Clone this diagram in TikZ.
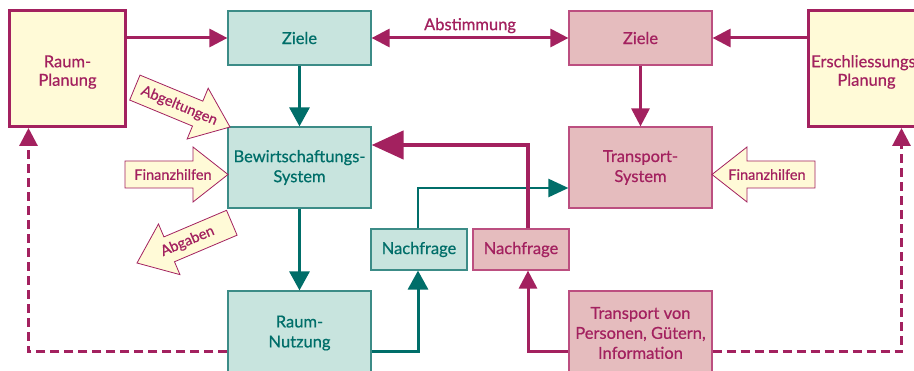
\documentclass[tikz,border=0pt]{standalone}
\usepackage{fontspec}
\setmainfont{Lato}[FakeBold=0.6]
\usetikzlibrary{arrows.meta,calc}
\definecolor{mag}{HTML}{A3215F}
\definecolor{creme}{HTML}{FFFAD7}
\definecolor{tealfill}{HTML}{C8E4DE}
\definecolor{tealline}{HTML}{3C8C87}
\definecolor{tealdark}{HTML}{006E69}
\definecolor{pinkfill}{HTML}{E5BCBE}
\definecolor{pinkline}{HTML}{BC4F80}
\tikzset{
  blocktext/.style={},
  barrow/.pic={
    \draw[draw=mag, line width=0.8pt, fill=creme, line join=miter]
      (0,0) -- (-35,27.5) -- (-35,13.5) -- (-103,13.5) -- (-103,-13.5)
      -- (-35,-13.5) -- (-35,-27.5) -- cycle;
    \node[transform shape, text=mag, font=\fontsize{14.5}{17}\selectfont, blocktext]
      (-t) at (-55,0) {#1};
  }
}
\begin{document}
\begin{tikzpicture}[x=1pt,y=-1pt,
  box/.style={draw, line width=1.2pt, align=center, inner sep=0pt,
    font=\fontsize{16.5}{20}\selectfont},
  tealbox/.style={box, draw=tealline, fill=tealfill, text=tealdark},
  pinkbox/.style={box, draw=pinkline, fill=pinkfill, text=mag},
  planbox/.style={box, draw=mag, line width=3pt, fill=creme, text=mag,
    minimum width=116pt, minimum height=116pt,
    font=\fontsize{16.5}{18.5}\selectfont},
  wide/.style={minimum width=143pt},
  marr/.style={draw=mag, line width=3pt, -{Triangle[length=18pt,width=18pt]}},
  marr2/.style={draw=mag, line width=3pt,
    {Triangle[length=18pt,width=18pt]}-{Triangle[length=18pt,width=18pt]}},
  bigarr/.style={draw=mag, line width=4.5pt, -{Triangle[length=32pt,width=28pt]}},
  tarr/.style={draw=tealdark, line width=3pt, -{Triangle[length=19pt,width=20pt]}},
  tarrthin/.style={draw=tealdark, line width=2.5pt, -{Triangle[length=20pt,width=18pt]}},
  darr/.style={draw=mag, line width=3pt, dash pattern=on 9pt off 5pt,
    -{Triangle[length=18pt,width=18pt]}},
]
\clip (0,0) rectangle (914,371);
\fill[white] (0,0) rectangle (914,371);

% planning boxes (the strut lowers the two-line label a little)
\node[planbox] (rp) at (67.5,68.5) {\rule{0pt}{19pt}Raum-\\Planung};
\node[planbox] (ep) at (866.5,68.5) {\rule{0pt}{19pt}Erschliessungs-\\Planung};

% goals
\node[tealbox, wide, minimum height=54pt] (zl) at (299.5,38) {Ziele};
\node[pinkbox, wide, minimum height=54pt] (zr) at (640.5,38) {Ziele};

% systems
\node[tealbox, wide, minimum height=81pt] (bs) at (299.5,167.5) {Bewirtschaftungs-\\System};
\node[pinkbox, wide, minimum height=81pt] (ts) at (640.5,167.5) {Transport-\\System};

% demand
\node[tealbox, minimum width=96pt, minimum height=41pt] (nt) at (419,249.5) {Nachfrage};
\node[pinkbox, minimum width=96pt, minimum height=41pt] (np) at (521,249.5) {Nachfrage};

% use
\node[tealbox, wide, minimum height=84pt] (rn) at (299.5,333) {Raum-\\Nutzung};
\node[pinkbox, wide, minimum height=84pt] (tp) at (640.5,333) {Transport von\\Personen, Gütern,\\Information};

% block arrows
\pic (abg) [rotate=-22.5] at (230,127) {barrow={Abgeltungen}};
\pic (fzl) at (228,174.5) {barrow={Finanzhilfen}};
\pic (abz) [rotate=203, blocktext/.style={rotate=180}] at (137,263) {barrow={Abgaben}};
\pic (fzr) [rotate=180, blocktext/.style={rotate=180}] at (712,174.5) {barrow={Finanzhilfen}};

% connectors
\draw[marr] (rp.east |- zl.west) -- (zl.west);
\draw[marr2] (zl.east) -- node[above=0pt, text=mag, font=\fontsize{16.5}{20}\selectfont] (abst) {Abstimmung} (zr.west);
\draw[marr] (ep.west |- zr.east) -- (zr.east);
\draw[tarr] (zl.south) -- (bs.north);
\draw[marr] (zr.south) -- (ts.north);
\draw[tarr] (bs.south) -- (rn.north);

\draw[tarr] ($(rn.east)+(0,19)$) -| ($(nt.south)+(-1,0)$);
\draw[tarrthin] ($(nt.north)+(-1,0)$) |- ($(ts.west)+(0,20.5)$);
\draw[bigarr] ($(np.north)+(7,0)$) |- ($(bs.east)+(0,-22.5)$);
\draw[marr] ($(tp.west)+(0,19)$) -| ($(np.south)+(7,0)$);

\draw[darr] ($(rn.west)+(0,19)$) -| ($(rp.south west)+(20.5,0)$);
\draw[darr] ($(tp.east)+(0,19)$) -| ($(ep.south west)+(94.5,0)$);
\end{tikzpicture}
\end{document}
